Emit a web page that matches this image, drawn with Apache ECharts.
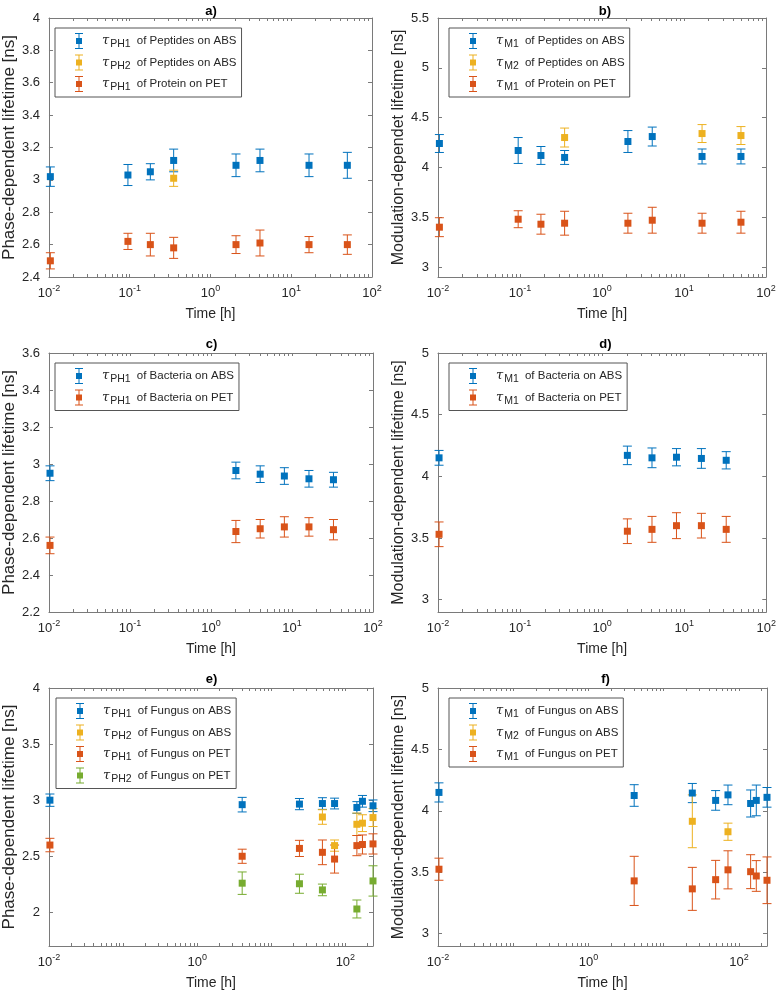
<!DOCTYPE html>
<html>
<head>
<meta charset="utf-8">
<script src="https://cdn.jsdelivr.net/npm/echarts@6/dist/echarts.min.js"></script>
<style>
html, body { margin: 0; padding: 0; background: #fff; }
#main { width: 779px; height: 994px; }
</style>
</head>
<body>
<div id="main"></div>
<script>
// time points [h]
var timeAB = [0.0104, 0.095, 0.18, 0.35, 2.07, 4.1, 16.6, 49.5];
var timeA2 = [0.35];
var timeB2 = [0.35, 16.6, 49.5];
var timeCD = [0.0103, 2.03, 4.05, 8.05, 16.2, 32.5];
var timeEF = [0.0103, 4.05, 24, 49, 71.5, 143, 170, 236];
var timeE2Abs = [49, 71.5, 143, 170, 236];
var timeE2Pet = [4.05, 24, 49, 143, 236];
var timeF2 = [24, 71.5];

// a) phase-dependent lifetime, peptides / protein
var aPepAbs1 = [3.02, 3.03, 3.05, 3.12, 3.09, 3.12, 3.09, 3.09];
var aPepAbs1Err = [0.06, 0.065, 0.05, 0.07, 0.07, 0.07, 0.07, 0.08];
var aPepAbs2 = [3.01];
var aPepAbs2Err = [0.05];
var aProtPet1 = [2.50, 2.62, 2.60, 2.58, 2.60, 2.61, 2.60, 2.60];
var aProtPet1Err = [0.05, 0.05, 0.07, 0.065, 0.055, 0.08, 0.05, 0.06];

// b) modulation-dependent lifetime, peptides / protein
var bPepAbs1 = [4.24, 4.17, 4.12, 4.10, 4.26, 4.31, 4.11, 4.11];
var bPepAbs1Err = [0.09, 0.13, 0.09, 0.07, 0.11, 0.095, 0.075, 0.075];
var bPepAbs2 = [4.30, 4.34, 4.32];
var bPepAbs2Err = [0.095, 0.09, 0.09];
var bProtPet1 = [3.40, 3.48, 3.43, 3.44, 3.44, 3.47, 3.44, 3.45];
var bProtPet1Err = [0.095, 0.085, 0.1, 0.12, 0.1, 0.13, 0.1, 0.11];

// c) phase-dependent lifetime, bacteria
var cBacAbs = [2.95, 2.965, 2.945, 2.935, 2.92, 2.915];
var cBacAbsErr = [0.04, 0.045, 0.045, 0.045, 0.045, 0.04];
var cBacPet = [2.56, 2.635, 2.65, 2.66, 2.66, 2.645];
var cBacPetErr = [0.045, 0.06, 0.05, 0.055, 0.05, 0.055];

// d) modulation-dependent lifetime, bacteria
var dBacAbs = [4.15, 4.17, 4.15, 4.155, 4.145, 4.13];
var dBacAbsErr = [0.06, 0.075, 0.08, 0.07, 0.08, 0.07];
var dBacPet = [3.53, 3.555, 3.57, 3.60, 3.60, 3.57];
var dBacPetErr = [0.1, 0.1, 0.105, 0.105, 0.1, 0.105];

// e) phase-dependent lifetime, fungus
var eFunAbs1 = [3.0, 2.96, 2.965, 2.97, 2.97, 2.935, 2.99, 2.95];
var eFunAbs1Err = [0.055, 0.065, 0.05, 0.052, 0.048, 0.052, 0.052, 0.052];
var eFunAbs2 = [2.85, 2.595, 2.785, 2.795, 2.845];
var eFunAbs2Err = [0.065, 0.05, 0.1, 0.075, 0.08];
var eFunPet1 = [2.60, 2.50, 2.57, 2.535, 2.475, 2.595, 2.605, 2.61];
var eFunPet1Err = [0.06, 0.063, 0.072, 0.11, 0.125, 0.09, 0.085, 0.09];
var eFunPet2 = [2.26, 2.255, 2.20, 2.03, 2.28];
var eFunPet2Err = [0.1, 0.085, 0.052, 0.08, 0.135];

// f) modulation-dependent lifetime, fungus
var fFunAbs1 = [4.15, 4.125, 4.145, 4.085, 4.13, 4.06, 4.085, 4.11];
var fFunAbs1Err = [0.078, 0.088, 0.078, 0.08, 0.08, 0.11, 0.125, 0.08];
var fFunAbs2 = [3.915, 3.83];
var fFunAbs2Err = [0.215, 0.07];
var fFunPet1 = [3.525, 3.43, 3.365, 3.44, 3.52, 3.505, 3.47, 3.435];
var fFunPet1Err = [0.09, 0.2, 0.175, 0.157, 0.155, 0.138, 0.125, 0.19];

// y tick labels
var yTicksA = [2.4, 2.6, 2.8, 3, 3.2, 3.4, 3.6, 3.8, 4];
var yTicksB = [3, 3.5, 4, 4.5, 5, 5.5];
var yTicksC = [2.2, 2.4, 2.6, 2.8, 3, 3.2, 3.4, 3.6];
var yTicksD = [3, 3.5, 4, 4.5, 5];
var yTicksE = [2, 2.5, 3, 3.5, 4];
var yTicksF = [3, 3.5, 4, 4.5, 5];

var BLUE = '#0072BD', ORANGE = '#D95319', YELLOW = '#EDB120', GREEN = '#77AC30';
var FONT = '"Liberation Sans", Arial, sans-serif';
var AX = '#7a7a7a';
var TXT = '#262626';
var CAP = 4.5;
// little error bar glyph for the legend
var EB_ICON = 'path://M1,0H9V1H1Z M4.5,1H5.5V15H4.5Z M1,15H9V16H1Z M2,5H8V11H2Z';

function S(name, color, t, v, e) {
  return { name: name, color: color, t: t, v: v, e: e };
}

var panels = [
  { title: 'a)', box: [44, 18, 328, 259], titleTop: 0, yMin: 2.4, yMax: 4, yTicks: yTicksA,
    yName: 'Phase-dependent lifetime [ns]', yFont: 17, yGap: 28, xMax: 100, step: 1, legend: [55, 28],
    series: [S('τPH1 of Peptides on ABS', BLUE, timeAB, aPepAbs1, aPepAbs1Err),
             S('τPH2 of Peptides on ABS', YELLOW, timeA2, aPepAbs2, aPepAbs2Err),
             S('τPH1 of Protein on PET', ORANGE, timeAB, aProtPet1, aProtPet1Err)] },
  { title: 'b)', box: [438, 18, 328, 259], titleTop: 0, yMin: 2.9, yMax: 5.5, yTicks: yTicksB,
    yName: 'Modulation-dependet lifetime [ns]', yFont: 16, yGap: 30, xMax: 100, step: 1, legend: [449, 28],
    series: [S('τM1 of Peptides on ABS', BLUE, timeAB, bPepAbs1, bPepAbs1Err),
             S('τM2 of Peptides on ABS', YELLOW, timeB2, bPepAbs2, bPepAbs2Err),
             S('τM1 of Protein on PET', ORANGE, timeAB, bProtPet1, bProtPet1Err)] },
  { title: 'c)', box: [44, 353, 329, 259], titleTop: 333, yMin: 2.2, yMax: 3.6, yTicks: yTicksC,
    yName: 'Phase-dependent lifetime [ns]', yFont: 17, yGap: 28, xMax: 100, step: 1, legend: [55, 363],
    series: [S('τPH1 of Bacteria on ABS', BLUE, timeCD, cBacAbs, cBacAbsErr),
             S('τPH1 of Bacteria on PET', ORANGE, timeCD, cBacPet, cBacPetErr)] },
  { title: 'd)', box: [438, 353, 329, 259], titleTop: 333, yMin: 2.9, yMax: 5, yTicks: yTicksD,
    yName: 'Modulation-dependent lifetime [ns]', yFont: 16, yGap: 30, xMax: 100, step: 1, legend: [449, 363],
    series: [S('τM1 of Bacteria on ABS', BLUE, timeCD, dBacAbs, dBacAbsErr),
             S('τM1 of Bacteria on PET', ORANGE, timeCD, dBacPet, dBacPetErr)] },
  { title: 'e)', box: [44, 688, 329, 258], titleTop: 668, yMin: 1.7, yMax: 4, yTicks: yTicksE,
    yName: 'Phase-dependent lifetime [ns]', yFont: 17, yGap: 28, xMax: 236, step: 2, legend: [56, 698],
    series: [S('τPH1 of Fungus on ABS', BLUE, timeEF, eFunAbs1, eFunAbs1Err),
             S('τPH2 of Fungus on ABS', YELLOW, timeE2Abs, eFunAbs2, eFunAbs2Err),
             S('τPH1 of Fungus on PET', ORANGE, timeEF, eFunPet1, eFunPet1Err),
             S('τPH2 of Fungus on PET', GREEN, timeE2Pet, eFunPet2, eFunPet2Err)] },
  { title: 'f)', box: [438, 688, 329, 258], titleTop: 668, yMin: 2.9, yMax: 5, yTicks: yTicksF,
    yName: 'Modulation-dependent lifetime [ns]', yFont: 16, yGap: 30, xMax: 236, step: 2, legend: [449, 698],
    series: [S('τM1 of Fungus on ABS', BLUE, timeEF, fFunAbs1, fFunAbs1Err),
             S('τM2 of Fungus on ABS', YELLOW, timeF2, fFunAbs2, fFunAbs2Err),
             S('τM1 of Fungus on PET', ORANGE, timeEF, fFunPet1, fFunPet1Err)] }
];

// major + minor tick positions of a log axis (1..9 x 10^n)
function logTicks(max) {
  var out = [];
  for (var n = -2; n <= 2; n++) {
    for (var k = 1; k <= 9; k++) {
      var v = k * Math.pow(10, n);
      if (v <= max * 1.0001) out.push(v);
    }
  }
  return out;
}

function decadeLabel(step) {
  return function (v) {
    var e = Math.log10(v);
    var r = Math.round(e);
    if (Math.abs(e - r) > 1e-6 || r % step !== 0) return '';
    return '{b|10}{sup|' + r + '}';
  };
}

function legendText(name) {
  var sp = name.indexOf(' ');
  return '{tau|τ}{sub|' + name.slice(1, sp) + '}{txt|' + name.slice(sp) + '}';
}

function errorBar(params, api) {
  var x = api.value(0);
  var lo = api.coord([x, api.value(2)]);
  var hi = api.coord([x, api.value(3)]);
  var style = { stroke: api.visual('color'), lineWidth: 1, fill: null };
  return {
    type: 'group',
    children: [
      { type: 'line', shape: { x1: lo[0], y1: lo[1], x2: hi[0], y2: hi[1] }, style: style },
      { type: 'line', shape: { x1: lo[0] - CAP, y1: lo[1], x2: lo[0] + CAP, y2: lo[1] }, style: style },
      { type: 'line', shape: { x1: hi[0] - CAP, y1: hi[1], x2: hi[0] + CAP, y2: hi[1] }, style: style }
    ]
  };
}

var option = { animation: false, title: [], grid: [], xAxis: [], yAxis: [], legend: [], series: [] };

panels.forEach(function (p, i) {
  option.grid.push({ left: p.box[0], top: p.box[1], width: p.box[2], height: p.box[3] });
  option.title.push({
    text: p.title, left: p.box[0] + p.box[2] / 2 - 2, top: p.titleTop, textAlign: 'center',
    textStyle: { fontSize: 13, fontWeight: 'bold', color: '#000', fontFamily: FONT }
  });
  var minor = logTicks(p.xMax);
  var lineStyle = { color: AX, width: 1 };
  option.xAxis.push({
    gridIndex: i, type: 'log', logBase: 10, min: 0.01, max: p.xMax, position: 'bottom',
    name: 'Time [h]', nameLocation: 'middle', nameGap: 30,
    nameTextStyle: { fontSize: 14, color: TXT, fontFamily: FONT },
    axisLine: { onZero: false, lineStyle: lineStyle },
    axisTick: { inside: true, length: 3, customValues: minor, lineStyle: lineStyle },
    axisLabel: {
      margin: 7, color: TXT, fontFamily: FONT, formatter: decadeLabel(p.step),
      rich: {
        b: { fontSize: 13, fontFamily: FONT, color: TXT, verticalAlign: 'bottom' },
        sup: { fontSize: 9, fontFamily: FONT, color: TXT, verticalAlign: 'bottom', padding: [0, 0, 7, 0] }
      }
    },
    splitLine: { show: false }
  });
  option.xAxis.push({
    gridIndex: i, type: 'log', logBase: 10, min: 0.01, max: p.xMax, position: 'top',
    axisLine: { onZero: false, lineStyle: lineStyle },
    axisTick: { inside: true, length: 3, customValues: minor, lineStyle: lineStyle },
    axisLabel: { show: false }, splitLine: { show: false }
  });
  option.yAxis.push({
    gridIndex: i, type: 'value', min: p.yMin, max: p.yMax, position: 'left',
    name: p.yName, nameLocation: 'middle', nameGap: p.yGap,
    nameTextStyle: { fontSize: p.yFont, color: TXT, fontFamily: FONT },
    axisLine: { show: true, onZero: false, lineStyle: lineStyle },
    axisTick: { show: true, inside: true, length: 4, customValues: p.yTicks, lineStyle: lineStyle },
    axisLabel: { customValues: p.yTicks, margin: 9, fontSize: 13, color: TXT, fontFamily: FONT },
    splitLine: { show: false }
  });
  option.yAxis.push({
    gridIndex: i, type: 'value', min: p.yMin, max: p.yMax, position: 'right',
    axisLine: { show: true, onZero: false, lineStyle: lineStyle },
    axisTick: { show: true, inside: true, length: 4, customValues: p.yTicks, lineStyle: lineStyle },
    axisLabel: { show: false }, splitLine: { show: false }
  });

  p.series.forEach(function (s) {
    var pts = s.t.map(function (t, k) {
      return [t, s.v[k], s.v[k] - s.e[k], s.v[k] + s.e[k]];
    });
    option.series.push({
      type: 'custom', name: s.name, xAxisIndex: 2 * i, yAxisIndex: 2 * i,
      data: pts, encode: { x: 0, y: [1, 2, 3] }, itemStyle: { color: s.color },
      renderItem: errorBar, clip: false, z: 2
    });
    option.series.push({
      type: 'scatter', name: s.name, xAxisIndex: 2 * i, yAxisIndex: 2 * i,
      data: pts.map(function (d) { return [d[0], d[1]]; }),
      symbol: 'rect', symbolSize: 7, itemStyle: { color: s.color, opacity: 1 },
      clip: false, z: 3
    });
  });

  option.legend.push({
    data: p.series.map(function (s) { return { name: s.name, icon: EB_ICON }; }),
    orient: 'vertical', left: p.legend[0], top: p.legend[1],
    itemWidth: 36, itemHeight: 16, itemGap: 4.5, padding: [5, 5, 4, 20],
    backgroundColor: '#fff', borderColor: '#555', borderWidth: 1, borderRadius: 0,
    selectedMode: false, formatter: legendText,
    textStyle: {
      fontFamily: FONT, color: TXT, fontSize: 11,
      rich: {
        tau: { fontSize: 13, fontStyle: 'italic', fontFamily: '"DejaVu Serif", serif', color: TXT },
        sub: { fontSize: 10.5, fontFamily: FONT, color: TXT, verticalAlign: 'top', padding: [7, 3, 0, 1] },
        txt: { fontSize: 11.5, fontFamily: FONT, color: TXT }
      }
    }
  });
});

var myChart = echarts.init(document.getElementById('main'));
myChart.setOption(option);
</script>
</body>
</html>
